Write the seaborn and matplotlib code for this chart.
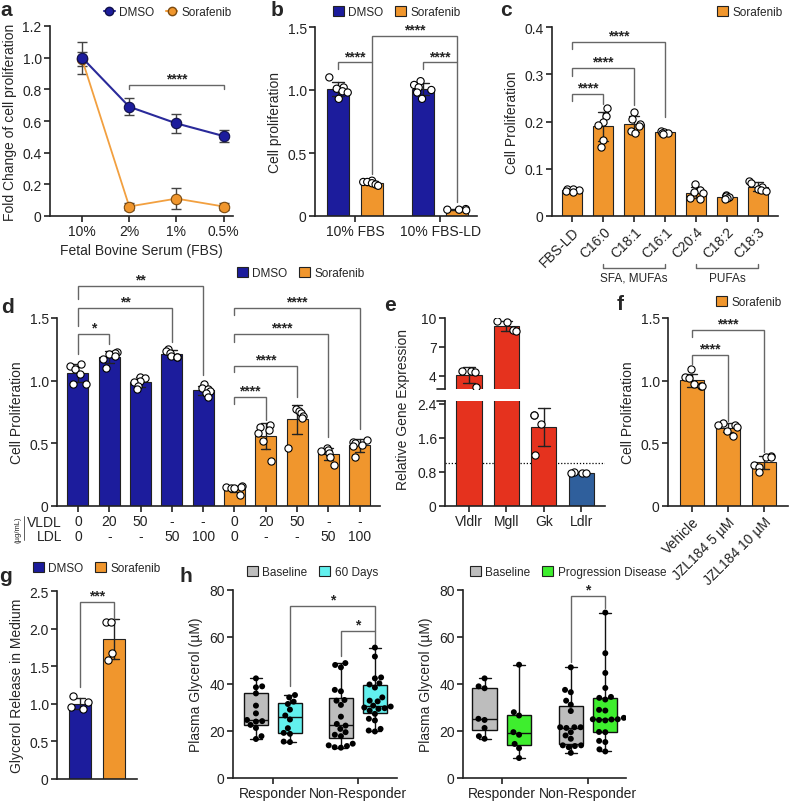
import numpy as np
import pandas as pd
import matplotlib
matplotlib.use('Agg')
import matplotlib.pyplot as plt
import seaborn as sns
from matplotlib.patches import Patch
from matplotlib.lines import Line2D
from matplotlib.transforms import blended_transform_factory

# ---------------- data ----------------
fbs_levels = ['10%', '2%', '1%', '0.5%']
a_dmso_mean = [1.00, 0.69, 0.585, 0.505]
a_dmso_sd = [0.10, 0.055, 0.062, 0.037]
a_sora_mean = [0.99, 0.06, 0.11, 0.06]
a_sora_sd = [0.045, 0.022, 0.067, 0.022]

b_conditions = ['10% FBS', '10% FBS-LD']
b_treatments = ['DMSO', 'Sorafenib']
b_dmso_fbs = [1.10, 1.02, 1.01, 0.99, 0.98, 0.93]
b_sora_fbs = [0.28, 0.27, 0.27, 0.26, 0.25, 0.24]
b_dmso_ld = [1.07, 1.04, 1.02, 1.00, 0.98, 0.93]
b_sora_ld = [0.055, 0.05, 0.05, 0.045]

c_labels = ['FBS-LD', 'C16:0', 'C18:1', 'C16:1', 'C20:4', 'C18:2', 'C18:3']
c_fbs_ld = [0.058, 0.057, 0.056, 0.053, 0.051]
c_c16_0 = [0.228, 0.212, 0.200, 0.193, 0.161, 0.146]
c_c18_1 = [0.221, 0.205, 0.195, 0.190, 0.180, 0.176]
c_c16_1 = [0.180, 0.178, 0.176, 0.176, 0.174]
c_c20_4 = [0.068, 0.055, 0.050, 0.048, 0.038, 0.036]
c_c18_2 = [0.045, 0.043, 0.040, 0.038, 0.037]
c_c18_3 = [0.075, 0.070, 0.062, 0.058, 0.055, 0.052]
c_groups = ['SFA, MUFAs', 'PUFAs']

d_vldl = ['0', '20', '50', '-', '-', '0', '20', '50', '-', '-']
d_ldl = ['0', '-', '-', '50', '100', '0', '-', '-', '50', '100']
d_treatment = ['DMSO'] * 5 + ['Sorafenib'] * 5
d_values = [
    [1.135, 1.117, 1.096, 1.056, 0.976, 0.97],
    [1.23, 1.22, 1.21, 1.20, 1.17, 1.10],
    [1.03, 1.02, 1.00, 0.99, 0.96, 0.93],
    [1.25, 1.24, 1.22, 1.20, 1.19, 1.19],
    [0.97, 0.94, 0.93, 0.92, 0.90, 0.87],
    [0.16, 0.15, 0.15, 0.14, 0.14, 0.09],
    [0.65, 0.63, 0.61, 0.58, 0.52, 0.36],
    [0.77, 0.76, 0.74, 0.72, 0.70, 0.46],
    [0.46, 0.45, 0.44, 0.42, 0.39, 0.33],
    [0.53, 0.51, 0.50, 0.49, 0.48, 0.39],
]

e_genes = ['Vldlr', 'Mgll', 'Gk', 'Ldlr']
e_vldlr = [4.5, 4.5, 4.4, 2.8]
e_mgll = [9.65, 9.6, 8.75, 8.6]
e_gk = [2.15, 2.15, 1.93, 1.21]
e_ldlr = [0.80, 0.78, 0.77, 0.77]

f_labels = ['Vehicle', 'JZL184 5 µM', 'JZL184 10 µM']
f_vehicle = [1.09, 1.03, 1.02, 0.97, 0.96, 0.96]
f_jzl5 = [0.66, 0.65, 0.65, 0.63, 0.60, 0.56]
f_jzl10 = [0.40, 0.39, 0.39, 0.33, 0.31, 0.27]

g_dmso = [1.10, 1.02, 0.96, 0.93]
g_sora = [2.09, 2.09, 1.68, 1.58]

h_groups = ['Responder', 'Non-Responder']
h1_times = ['Baseline', '60 Days']
h1_resp_base = [42.4, 39.0, 38.6, 36.0, 30.8, 27.5, 24.7, 24.2, 24.0, 22.6, 21.3, 17.8, 16.6]
h1_resp_60 = [15.3, 15.5, 18.8, 19.2, 21.2, 24.9, 26.6, 29.1, 31.5, 32.5, 34.3, 35.3]
h1_nonr_base = [12.9, 13.1, 13.6, 13.9, 14.6, 17.8, 18.4, 19.5, 20.9, 22.3, 23.0, 26.1, 31.1,
                32.9, 33.2, 36.9, 37.5, 47.1, 48.1, 48.9]
h1_nonr_60 = [19.8, 20.2, 20.9, 24.5, 25.2, 27.3, 28.7, 29.4, 29.7, 30.0, 30.4, 30.8, 32.6,
              32.9, 34.3, 38.5, 39.8, 40.3, 42.4, 42.8, 51.7, 55.5]
h2_times = ['Baseline', 'Progression Disease']
h2_resp_base = [16.7, 17.8, 21.3, 24.7, 25.2, 38.2, 39.0, 42.4]
h2_resp_prog = [8.5, 12.7, 14.5, 18.4, 19.5, 26.6, 28.0, 48.2]
h2_nonr_base = [10.7, 13.1, 13.6, 13.9, 13.9, 16.7, 18.1, 19.5, 21.3, 21.6, 21.6, 21.6, 28.5,
                31.2, 32.9, 36.5, 37.5, 47.1]
h2_nonr_prog = [11.3, 12.2, 15.3, 15.8, 19.5, 19.6, 24.5, 24.7, 24.9, 25.0, 25.0, 25.6, 28.7,
                29.0, 33.4, 34.1, 34.5, 38.3, 44.7, 53.1, 70.4]

# ---------------- style ----------------
np.random.seed(7)  # only for horizontal jitter of dots
sns.set_style('ticks')
plt.rcParams['font.family'] = ['Liberation Sans', 'DejaVu Sans']
plt.rcParams['font.size'] = 10
plt.rcParams['axes.linewidth'] = 1.2
plt.rcParams['xtick.major.width'] = 1.2
plt.rcParams['ytick.major.width'] = 1.2
plt.rcParams['xtick.major.size'] = 4
plt.rcParams['ytick.major.size'] = 4
plt.rcParams['xtick.labelsize'] = 10
plt.rcParams['ytick.labelsize'] = 10
plt.rcParams['axes.labelsize'] = 10
plt.rcParams['axes.edgecolor'] = '#222222'
plt.rcParams['xtick.color'] = '#222222'
plt.rcParams['ytick.color'] = '#222222'

NAVY = '#1C1C9C'
ORANGE = '#F0962D'
RED = '#E5321E'
STEEL = '#2F5F9C'
GRAY = '#BDBDBD'
CYAN = '#62F0EE'
GREEN = '#3EEE2E'
WHITE = {'DMSO': 'white', 'Sorafenib': 'white'}
PAL = {'DMSO': NAVY, 'Sorafenib': ORANGE}
ERR = {'linewidth': 1.0, 'color': '#222222'}
PT = dict(color='white', edgecolor='black', linewidth=0.8, size=5.2, jitter=0.28)
BAR = dict(errorbar='sd', capsize=0.3, err_kws=ERR, edgecolor='#222222', linewidth=0.8,
           saturation=1)

W, H = 790, 804
fig = plt.figure(figsize=(W / 100, H / 100), dpi=100)


def add_ax(x0, y0, x1, y1):
    return fig.add_axes([x0 / W, 1 - y1 / H, (x1 - x0) / W, (y1 - y0) / H])


def style(ax):
    sns.despine(ax=ax)
    ax.tick_params(direction='out', length=4, width=1.2, pad=2)


def fmt_ticks(ax, ticks, dec=1):
    ax.set_yticks(ticks)
    ax.set_yticklabels(['0' if t == 0 else f'{t:.{dec}f}' for t in ticks])


def bracket(ax, x1, x2, y, yl, yr, text, fs=10):
    ax.plot([x1, x1, x2, x2], [yl, y, y, yr], color='#666666', lw=1.0, clip_on=False,
            solid_joinstyle='miter')
    ax.annotate(text, xy=((x1 + x2) / 2, y), xytext=(0, -0.5), textcoords='offset points',
                ha='center', va='bottom', fontsize=fs, fontweight='bold',
                annotation_clip=False)


def legend_px(x, y, handles, labels, ncol=2):
    fig.legend(handles, labels, loc='center left', bbox_to_anchor=(x / W, 1 - y / H),
               ncol=ncol, frameon=False, fontsize=8.5, handlelength=0.9, handleheight=0.9,
               handletextpad=0.4, columnspacing=1.0, borderpad=0, borderaxespad=0)


def sq(c):
    return Patch(facecolor=c, edgecolor='#222222', linewidth=0.8)


def panel_letter(x, y, s):
    fig.text(x / W, 1 - y / H, s, fontsize=15, fontweight='bold', ha='center', va='center')


# ---------------- panel a ----------------
ax = add_ax(50, 27, 233, 217)
xs = np.arange(len(fbs_levels))
ax.errorbar(xs, a_sora_mean, yerr=a_sora_sd, fmt='none', ecolor='#444444', elinewidth=1,
            capsize=3.5, capthick=1, zorder=2)
ax.errorbar(xs, a_dmso_mean, yerr=a_dmso_sd, fmt='none', ecolor='#444444', elinewidth=1,
            capsize=3.5, capthick=1, zorder=2)
sns.lineplot(x=xs, y=a_sora_mean, color='#F2A040', lw=1.3, marker='o', markersize=7.5,
             markerfacecolor=ORANGE, markeredgecolor='#7A4A10', markeredgewidth=0.8, ax=ax, zorder=3)
sns.lineplot(x=xs, y=a_dmso_mean, color='#2A2A9A', lw=1.5, marker='o', markersize=7.5,
             markerfacecolor=NAVY, markeredgecolor='#10104A', markeredgewidth=0.8, ax=ax, zorder=4)
ax.set_xticks(xs, fbs_levels)
ax.set_xlim(-0.68, 3.2)
ax.set_ylim(0, 1.2)
fmt_ticks(ax, [0, 0.2, 0.4, 0.6, 0.8, 1.0, 1.2])
ax.set_ylabel('Fold Change of cell proliferation')
ax.set_xlabel('Fetal Bovine Serum (FBS)', labelpad=3)
style(ax)
bracket(ax, 1, 3, 0.83, 0.80, 0.80, '****')
legend_px(104, 13, [Line2D([], [], color='#2A2A9A', marker='o', markerfacecolor=NAVY,
                           markeredgecolor='#10104A', markersize=6),
                    Line2D([], [], color='#F2A040', marker='o', markerfacecolor=ORANGE,
                           markeredgecolor='#7A4A10', markersize=6)],
          b_treatments)

# ---------------- panel b ----------------
rows = []
for cond, tr, vals in [(b_conditions[0], 'DMSO', b_dmso_fbs), (b_conditions[0], 'Sorafenib', b_sora_fbs),
                       (b_conditions[1], 'DMSO', b_dmso_ld), (b_conditions[1], 'Sorafenib', b_sora_ld)]:
    for v in vals:
        rows.append((cond, tr, v))
df_b = pd.DataFrame(rows, columns=['cond', 'treat', 'val'])
ax = add_ax(315, 28, 477, 217)
sns.barplot(df_b, x='cond', y='val', hue='treat', order=b_conditions, hue_order=b_treatments,
            palette=PAL, width=0.8, gap=0.35, legend=False, ax=ax, **BAR)
sns.stripplot(df_b, x='cond', y='val', hue='treat', order=b_conditions, hue_order=b_treatments,
              dodge=True, palette=WHITE, edgecolor='black', linewidth=0.8, size=5.2, jitter=0.24,
              legend=False, ax=ax)
ax.set_xlim(-0.47, 1.435)
ax.set_ylim(0, 1.5)
fmt_ticks(ax, [0, 0.5, 1.0, 1.5])
ax.set_ylabel('Cell proliferation')
ax.set_xlabel('')
style(ax)
bracket(ax, -0.2, 0.2, 1.22, 1.17, 0.33, '****')
bracket(ax, 0.8, 1.2, 1.22, 1.17, 0.11, '****')
bracket(ax, 0.2, 1.2, 1.43, 1.22, 1.22, '****')
legend_px(333, 13, [sq(NAVY), sq(ORANGE)], b_treatments)

# ---------------- panel c ----------------
rows = []
for lab, vals in zip(c_labels, [c_fbs_ld, c_c16_0, c_c18_1, c_c16_1, c_c20_4, c_c18_2, c_c18_3]):
    for v in vals:
        rows.append((lab, v))
df_c = pd.DataFrame(rows, columns=['lab', 'val'])
ax = add_ax(552, 28, 778, 217)
sns.barplot(df_c, x='lab', y='val', order=c_labels, color=ORANGE, width=0.65, ax=ax, **BAR)
sns.stripplot(df_c, x='lab', y='val', order=c_labels, ax=ax, **PT)
ax.set_xlim(-0.65, 6.65)
ax.set_ylim(0, 0.4)
fmt_ticks(ax, [0, 0.1, 0.2, 0.3, 0.4])
ax.set_xticks(range(len(c_labels)))
ax.set_xticklabels(c_labels, rotation=45, ha='right', rotation_mode='anchor')
ax.set_ylabel('Cell Proliferation')
ax.set_xlabel('')
style(ax)
bracket(ax, 0, 1, 0.259, 0.244, 0.237, '****')
bracket(ax, 0, 2, 0.314, 0.297, 0.235, '****')
bracket(ax, 0, 3, 0.369, 0.353, 0.209, '****')
tr_c = blended_transform_factory(ax.transData, fig.transFigure)
for (g0, g1), name in zip([(1, 3), (4, 6)], c_groups):
    yb = 1 - 269 / H
    yt = 1 - 265 / H
    ax.plot([g0, g0, g1, g1], [yt, yb, yb, yt], color='#666666', lw=1, transform=tr_c, clip_on=False)
    ax.text((g0 + g1) / 2, 1 - 279 / H, name, transform=tr_c, ha='center', va='center', fontsize=8.5)
legend_px(717, 13, [sq(ORANGE)], ['Sorafenib'], ncol=1)

# ---------------- panel d ----------------
rows = []
for i, (tr, vals) in enumerate(zip(d_treatment, d_values)):
    for v in vals:
        rows.append((str(i), tr, v))
df_d = pd.DataFrame(rows, columns=['idx', 'treat', 'val'])
d_order = [str(i) for i in range(len(d_values))]
ax = add_ax(57, 319, 380, 507)
sns.barplot(df_d, x='idx', y='val', hue='treat', order=d_order, hue_order=b_treatments, dodge=False,
            palette=PAL, width=0.67, legend=False, ax=ax, **BAR)
sns.stripplot(df_d, x='idx', y='val', order=d_order, ax=ax, **PT)
ax.set_xlim(-0.67, 9.65)
ax.set_ylim(0, 1.5)
fmt_ticks(ax, [0, 0.5, 1.0, 1.5])
ax.set_xticks(range(len(d_order)))
ax.set_xticklabels([f'{v}\n{l}' for v, l in zip(d_vldl, d_ldl)], linespacing=1.05)
ax.set_ylabel('Cell Proliferation')
ax.set_xlabel('')
style(ax)
bracket(ax, 0, 1, 1.375, 1.215, 1.295, '*')
bracket(ax, 0, 3, 1.58, 1.44, 1.31, '**')
bracket(ax, 0, 4, 1.755, 1.65, 1.045, '**')
bracket(ax, 5, 6, 0.87, 0.817, 0.683, '****')
bracket(ax, 5, 7, 1.12, 1.07, 0.87, '****')
bracket(ax, 5, 8, 1.375, 1.31, 0.55, '****')
bracket(ax, 5, 9, 1.58, 1.52, 0.617, '****')
fig.text(62 / W, 1 - 530 / H, 'VLDL\nLDL', ha='right', va='center', fontsize=10, linespacing=1.05)
fig.text(18 / W, 1 - 530 / H, '(µg/mL)', ha='center', va='center', fontsize=5.5, rotation=90)
fig.add_artist(Line2D([24 / W, 24 / W], [1 - 517 / H, 1 - 541 / H], color='#444444', lw=0.6))
legend_px(237, 274, [sq(NAVY), sq(ORANGE)], b_treatments)

# ---------------- panel e (broken axis) ----------------
rows = []
for gname, vals in zip(e_genes, [e_vldlr, e_mgll, e_gk, e_ldlr]):
    for v in vals:
        rows.append((gname, v))
df_e = pd.DataFrame(rows, columns=['gene', 'val'])
e_pal = {'Vldlr': RED, 'Mgll': RED, 'Gk': RED, 'Ldlr': STEEL}
ax_up = add_ax(445, 319, 605, 390)
ax_lo = add_ax(445, 402, 605, 507)
for axe in (ax_up, ax_lo):
    sns.barplot(df_e, x='gene', y='val', hue='gene', order=e_genes, palette=e_pal, width=0.67,
                legend=False, ax=axe, **BAR)
    sns.stripplot(df_e, x='gene', y='val', order=e_genes, ax=axe, **PT)
    for art in list(axe.collections) + list(axe.lines) + list(axe.patches):
        art.set_clip_on(True)
        art.set_clip_path(axe.patch)
    axe.set_xlim(-0.64, 3.63)
    axe.set_xlabel('')
    axe.set_ylabel('')
    style(axe)
ax_lo.axhline(1.0, color='black', lw=0.9, ls=(0, (1, 1.5)), zorder=0)
ax_up.set_ylim(2.62, 10.0)
ax_up.set_yticks([4, 7, 10])
ax_up.set_yticklabels(['4', '7', '10'])
ax_up.spines['bottom'].set_visible(False)
ax_up.tick_params(axis='x', bottom=False, labelbottom=False)
ax_lo.set_ylim(0, 2.47)
ax_lo.set_yticks([0, 0.8, 1.6, 2.4])
ax_lo.set_yticklabels(['0', '0.8', '1.6', '2.4'])
ax_lo.set_xticks(range(4))
ax_lo.set_xticklabels(e_genes)
for axe, yy in [(ax_up, 0), (ax_lo, 1)]:
    axe.plot([-0.05, 0.0], [yy, yy], transform=axe.transAxes, color='#222222', lw=1.2, clip_on=False)
fig.text(403 / W, 1 - 410 / H, 'Relative Gene Expression', rotation=90, ha='center', va='center',
         fontsize=10)

# ---------------- panel f ----------------
rows = []
for lab, vals in zip(f_labels, [f_vehicle, f_jzl5, f_jzl10]):
    for v in vals:
        rows.append((lab, v))
df_f = pd.DataFrame(rows, columns=['lab', 'val'])
ax = add_ax(668, 319, 788, 507)
sns.barplot(df_f, x='lab', y='val', order=f_labels, color=ORANGE, width=0.65, ax=ax, **BAR)
sns.stripplot(df_f, x='lab', y='val', order=f_labels, ax=ax, **PT)
ax.set_xlim(-0.67, 2.67)
ax.set_ylim(0, 1.5)
fmt_ticks(ax, [0, 0.5, 1.0, 1.5])
ax.set_xticks(range(3))
ax.set_xticklabels(f_labels, rotation=45, ha='right', rotation_mode='anchor')
ax.set_ylabel('Cell Proliferation')
ax.set_xlabel('')
style(ax)
bracket(ax, 0, 1, 1.205, 1.133, 0.678, '****')
bracket(ax, 0, 2, 1.404, 1.35, 0.431, '****')
legend_px(716, 303, [sq(ORANGE)], ['Sorafenib'], ncol=1)

# ---------------- panel g ----------------
rows = [('DMSO', v) for v in g_dmso] + [('Sorafenib', v) for v in g_sora]
df_g = pd.DataFrame(rows, columns=['treat', 'val'])
ax = add_ax(57, 592, 137, 780)
sns.barplot(df_g, x='treat', y='val', hue='treat', order=b_treatments, palette=PAL, width=0.65,
            legend=False, ax=ax, **BAR)
sns.stripplot(df_g, x='treat', y='val', order=b_treatments, ax=ax, **PT)
ax.set_xlim(-0.68, 1.68)
ax.set_ylim(0, 2.5)
fmt_ticks(ax, [0, 0.5, 1.0, 1.5, 2.0, 2.5])
ax.set_ylabel('Glycerol Release in Medium')
ax.set_xlabel('')
style(ax)
ax.tick_params(axis='x', bottom=False, labelbottom=False)
bracket(ax, 0, 1, 2.354, 1.22, 2.13, '***')
legend_px(33, 569, [sq(NAVY), sq(ORANGE)], b_treatments)


# ---------------- panel h ----------------
def box_panel(x0, x1, times, data_sets, colors, brackets, leg_x):
    rows = []
    for (grp, tm), vals in zip([(h_groups[0], times[0]), (h_groups[0], times[1]),
                                (h_groups[1], times[0]), (h_groups[1], times[1])], data_sets):
        for v in vals:
            rows.append((grp, tm, v))
    df = pd.DataFrame(rows, columns=['grp', 'time', 'val'])
    ax = add_ax(x0, 591, x1, 779)
    pal = dict(zip(times, colors))
    sns.boxplot(df, x='grp', y='val', hue='time', order=h_groups, hue_order=times, palette=pal,
                width=0.8, gap=0.3, whis=(0, 100), showfliers=False, linecolor='#111111',
                linewidth=1.0, saturation=1, legend=False, ax=ax)
    sns.swarmplot(df, x='grp', y='val', hue='time', order=h_groups, hue_order=times, dodge=True,
                  palette={t: 'black' for t in times}, size=4.3, linewidth=0, legend=False, ax=ax)
    ax.set_ylim(0, 80)
    ax.set_yticks([0, 20, 40, 60, 80])
    ax.set_xlabel('')
    ax.set_ylabel('Plasma Glycerol (µM)')
    style(ax)
    for b in brackets:
        bracket(ax, *b)
    legend_px(leg_x, 573, [sq(colors[0]), sq(colors[1])], times)
    return ax


axh1 = box_panel(233, 397, h1_times, [h1_resp_base, h1_resp_60, h1_nonr_base, h1_nonr_60],
                 [GRAY, CYAN], [(0.8, 1.2, 62.6, 51.9, 57.0, '*'), (0.2, 1.2, 73.2, 39.1, 62.6, '*')], 247)
axh1.set_xlim(-0.47, 1.46)
axh2 = box_panel(463, 626, h2_times, [h2_resp_base, h2_resp_prog, h2_nonr_base, h2_nonr_prog],
                 [GRAY, GREEN], [(0.8, 1.2, 77.4, 49.5, 72.5, '*')], 470)
axh2.set_xlim(-0.45, 1.44)

# ---------------- panel letters ----------------
panel_letter(6, 11, 'a')
panel_letter(277, 10, 'b')
panel_letter(506, 11, 'c')
panel_letter(7, 308, 'd')
panel_letter(390, 306, 'e')
panel_letter(620, 305, 'f')
panel_letter(6, 577, 'g')
panel_letter(186, 577, 'h')

fig.savefig('out.png', dpi=100)
